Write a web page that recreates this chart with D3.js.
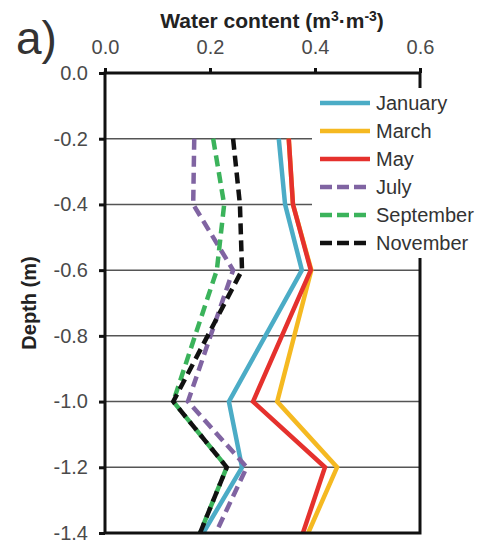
<!DOCTYPE html>
<html>
<head>
<meta charset="utf-8">
<script src="https://cdn.jsdelivr.net/npm/d3@7"></script>
<style>
  body { margin: 0; background: #fff; }
  svg { display: block; font-family: "Liberation Sans", Arial, sans-serif; }
</style>
</head>
<body>
<div id="chart"></div>
<script>
// depths (m) where water content was measured
var depths = [-0.2, -0.4, -0.6, -1.0, -1.2, -1.4];

// water content (m3/m3) per month, same order as depths
var january   = [0.331, 0.343, 0.375, 0.236, 0.261, 0.187];
var march     = [0.350, 0.358, 0.393, 0.328, 0.442, 0.387];
var may       = [0.350, 0.358, 0.392, 0.282, 0.419, 0.377];
var july      = [0.170, 0.168, 0.244, 0.158, 0.270, 0.211];
var september = [0.206, 0.227, 0.213, 0.130, 0.232, 0.181];
var november  = [0.244, 0.257, 0.261, 0.130, 0.232, 0.181];

var months = ["January", "March", "May", "July", "September", "November"];
var xTicks = [0, 0.2, 0.4, 0.6];
var yTicks = [0, -0.2, -0.4, -0.6, -0.8, -1.0, -1.2, -1.4];

var series = [
    {name: months[0], values: january,   color: "#4bacc6", dash: null},
    {name: months[1], values: march,     color: "#f5b921", dash: null},
    {name: months[2], values: may,       color: "#e5312d", dash: null},
    {name: months[3], values: july,      color: "#8064a2", dash: "11,6"},
    {name: months[4], values: september, color: "#3bb35b", dash: "11,6"},
    {name: months[5], values: november,  color: "#111111", dash: "11,6"}
];

var width = 481, height = 545;
var plotLeft = 105, plotRight = 420, plotTop = 73, plotBottom = 533;

var svg = d3.select("#chart").append("svg")
    .attr("width", width)
    .attr("height", height);

var x = d3.scaleLinear().domain([0, 0.6]).range([plotLeft, plotRight]);
var y = d3.scaleLinear().domain([0, -1.4]).range([plotTop, plotBottom]);

// plain hyphen for negatives, like the original
var fmt = function(d) { return d3.format(".1f")(d).replace("\u2212", "-"); };

// horizontal grid
svg.append("g")
    .selectAll("line")
    .data(yTicks.slice(1, -1))
    .enter().append("line")
    .attr("x1", plotLeft).attr("x2", plotRight)
    .attr("y1", function(d) { return y(d); })
    .attr("y2", function(d) { return y(d); })
    .attr("stroke", "#555")
    .attr("stroke-width", 1.5);

// data lines
var line = d3.line()
    .x(function(d) { return x(d[0]); })
    .y(function(d) { return y(d[1]); });

svg.append("g")
    .selectAll("path")
    .data(series)
    .enter().append("path")
    .attr("d", function(s) {
        return line(s.values.map(function(v, i) { return [v, depths[i]]; }));
    })
    .attr("fill", "none")
    .attr("stroke", function(s) { return s.color; })
    .attr("stroke-width", 4.5)
    .attr("stroke-dasharray", function(s) { return s.dash; })
    .attr("stroke-linejoin", "miter");

// axes (top + left, with frame)
var xAxis = svg.append("g")
    .attr("transform", "translate(0," + plotTop + ")")
    .call(d3.axisTop(x).tickValues(xTicks).tickFormat(fmt).tickSize(5).tickPadding(14));
var yAxis = svg.append("g")
    .attr("transform", "translate(" + plotLeft + ",0)")
    .call(d3.axisLeft(y).tickValues(yTicks).tickFormat(fmt).tickSize(6).tickPadding(11));

[xAxis, yAxis].forEach(function(a) {
    a.select(".domain").remove();
    a.selectAll(".tick line").attr("stroke", "#111").attr("stroke-width", 3);
    a.selectAll(".tick text")
        .attr("fill", "#4a4a4a")
        .style("font-size", "20px")
        .style("font-family", "'Liberation Sans', Arial, sans-serif");
});

svg.append("rect")
    .attr("x", plotLeft).attr("y", plotTop)
    .attr("width", plotRight - plotLeft).attr("height", plotBottom - plotTop)
    .attr("fill", "none")
    .attr("stroke", "#111")
    .attr("stroke-width", 3);

// legend
var legend = svg.append("g");
legend.append("rect")
    .attr("x", 312).attr("y", 88)
    .attr("width", 169).attr("height", 170)
    .attr("fill", "#fff");

var item = legend.selectAll("g.item")
    .data(series)
    .enter().append("g")
    .attr("class", "item")
    .attr("transform", function(d, i) { return "translate(320," + (103 + i * 28) + ")"; });

item.append("line")
    .attr("x1", 0).attr("x2", 50)
    .attr("stroke", function(d) { return d.color; })
    .attr("stroke-width", 4.5)
    .attr("stroke-dasharray", function(d) { return d.dash ? "12,5" : null; });

item.append("text")
    .attr("x", 56)
    .attr("dy", "0.36em")
    .attr("fill", "#333")
    .style("font-size", "20px")
    .text(function(d) { return d.name; });

// titles
var title = svg.append("text")
    .attr("x", 272).attr("y", 28)
    .attr("text-anchor", "middle")
    .attr("fill", "#222")
    .style("font-size", "21px")
    .style("font-weight", "bold");
title.append("tspan").text("Water content (m");
title.append("tspan").attr("dy", -7).style("font-size", "14px").text("3");
title.append("tspan").attr("dy", 7).text("\u00b7m");
title.append("tspan").attr("dy", -7).style("font-size", "14px").text("-3");
title.append("tspan").attr("dy", 7).text(")");

svg.append("text")
    .attr("transform", "translate(36,303) rotate(-90)")
    .attr("text-anchor", "middle")
    .attr("fill", "#222")
    .style("font-size", "20px")
    .style("font-weight", "bold")
    .text("Depth (m)");

svg.append("text")
    .attr("x", 16).attr("y", 54)
    .attr("fill", "#333")
    .style("font-size", "46px")
    .text("a)");
</script>
</body>
</html>
